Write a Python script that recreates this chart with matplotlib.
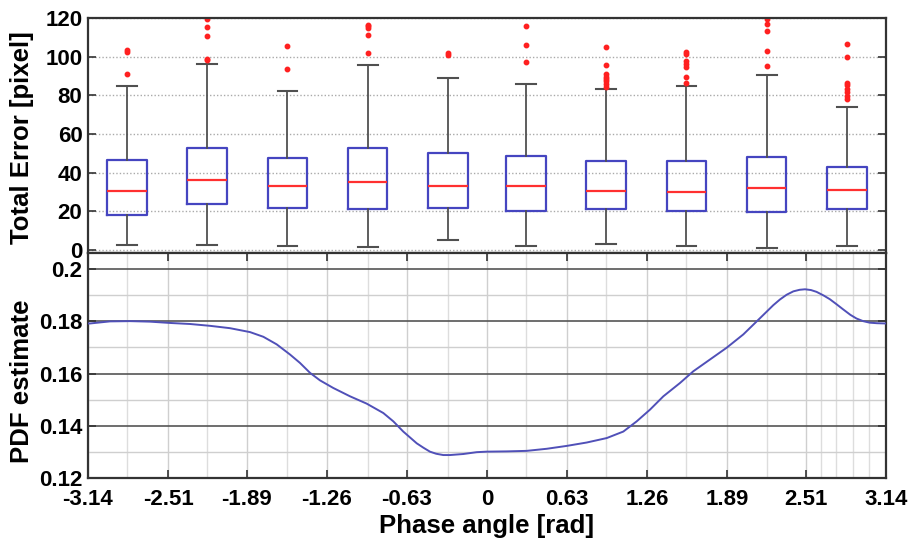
import matplotlib
matplotlib.use("Agg")
import matplotlib.pyplot as plt
from matplotlib.ticker import FixedLocator, NullLocator

plt.rcParams['font.family'] = ['Liberation Sans', 'DejaVu Sans']
plt.rcParams['font.weight'] = 'bold'

# === Box plot data ===
bin_centers = [-2.83, -2.20, -1.57, -0.94, -0.31, 0.31, 0.94, 1.57, 2.20, 2.83]
q1 = [18.2, 23.7, 21.6, 21.1, 21.8, 20.3, 21.3, 20.3, 19.4, 21.3]
medians = [30.3, 36.4, 32.9, 35.0, 33.2, 33.0, 30.3, 30.0, 31.9, 30.8]
q3 = [46.4, 52.8, 47.3, 52.8, 50.0, 48.5, 45.9, 46.2, 48.0, 42.8]
whis_lo = [2.6, 2.6, 2.1, 1.4, 5.2, 2.1, 2.9, 2.1, 0.9, 2.1]
whis_hi = [84.9, 96.1, 82.2, 95.9, 89.2, 86.1, 83.5, 84.7, 90.7, 74.1]
outliers = [
    [91.0, 102.6, 103.4],
    [98.2, 99.0, 110.5, 115.5, 119.5],
    [93.5, 105.5],
    [101.8, 111.2, 115.0, 116.0, 116.5],
    [101.0, 101.8],
    [97.0, 106.0, 115.7],
    [84.5, 85.7, 87.3, 88.3, 89.6, 91.0, 95.9, 105.1],
    [86.6, 89.7, 94.4, 96.1, 97.7, 101.3, 102.2],
    [95.2, 103.0, 113.1, 116.9, 119.6],
    [77.9, 79.6, 81.7, 83.5, 85.5, 86.6, 99.6, 106.5],
]

# === PDF estimate curve ===
phase = [-3.14, -3.124, -2.967, -2.809, -2.652, -2.495, -2.337, -2.180, -2.023,
         -1.865, -1.760, -1.655, -1.550, -1.472, -1.393, -1.314, -1.210, -1.078,
         -0.947, -0.816, -0.737, -0.659, -0.553, -0.500, -0.449, -0.400, -0.344,
         -0.291, -0.186, -0.081, -0.002, 0.155, 0.312, 0.470, 0.627, 0.785,
         0.942, 1.073, 1.178, 1.283, 1.388, 1.519, 1.624, 1.755, 1.886, 2.017,
         2.148, 2.253, 2.306, 2.358, 2.411, 2.460, 2.503, 2.550, 2.594, 2.650,
         2.698, 2.750, 2.803, 2.860, 2.908, 2.960, 3.013, 3.070, 3.14]
pdf = [0.1792, 0.1792, 0.1800, 0.1801, 0.1799, 0.1794, 0.1790, 0.1783, 0.1774,
       0.1759, 0.1741, 0.1712, 0.1673, 0.1641, 0.1603, 0.1574, 0.1545, 0.1513,
       0.1485, 0.1449, 0.1417, 0.1378, 0.1333, 0.1316, 0.1301, 0.1293, 0.1288,
       0.1288, 0.1292, 0.1299, 0.1301, 0.1302, 0.1304, 0.1312, 0.1323, 0.1336,
       0.1353, 0.1378, 0.1417, 0.1462, 0.1513, 0.1564, 0.1609, 0.1654, 0.1699,
       0.1750, 0.1812, 0.1862, 0.1884, 0.1902, 0.1915, 0.1921, 0.1923, 0.1920,
       0.1913, 0.1899, 0.1885, 0.1866, 0.1846, 0.1825, 0.1811, 0.1801, 0.1795,
       0.1793, 0.1792]

x_ticks = [-3.14, -2.51, -1.89, -1.26, -0.63, 0, 0.63, 1.26, 1.89, 2.51, 3.14]
x_ticklabels = ['-3.14', '-2.51', '-1.89', '-1.26', '-0.63', '0', '0.63', '1.26',
                '1.89', '2.51', '3.14']
x_minor = [-2.83, -2.20, -1.57, -0.94, -0.31, 0.31, 0.94, 1.57, 2.20,
           2.63, 2.75, 2.88, 3.01]
top_yticks = [0, 20, 40, 60, 80, 100, 120]
bot_yticks = [0.12, 0.14, 0.16, 0.18, 0.2]
bot_yticklabels = ['0.12', '0.14', '0.16', '0.18', '0.2']
bot_yminor = [0.13, 0.15, 0.17, 0.19]

spine_col = '#333333'
fs = 16
lfs = 18.5

fig = plt.figure(figsize=(9.1, 5.45), dpi=100)
ax1 = fig.add_axes([0.0967, 0.5358, 0.8769, 0.4312])
ax2 = fig.add_axes([0.0967, 0.1229, 0.8769, 0.4129])

# === Top panel: box plots ===
stats = []
for i in range(len(bin_centers)):
    stats.append(dict(med=medians[i], q1=q1[i], q3=q3[i], whislo=whis_lo[i],
                      whishi=whis_hi[i], fliers=outliers[i]))

ax1.bxp(stats, positions=bin_centers, widths=0.314, manage_ticks=False,
        boxprops=dict(color='#4545c0', linewidth=1.6),
        medianprops=dict(color='#ff3030', linewidth=1.6),
        whiskerprops=dict(color='#505050', linewidth=1.3),
        capprops=dict(color='#505050', linewidth=1.5),
        flierprops=dict(marker='o', markersize=3.2, markerfacecolor='#ff2020',
                        markeredgecolor='#ff2020', linestyle='none'))
ax1.set_xlim(-3.14, 3.14)
ax1.set_ylim(-1.6, 120)
ax1.set_yticks(top_yticks)
ax1.xaxis.set_major_locator(NullLocator())
ax1.yaxis.grid(True, linestyle=(0, (1, 1.5)), color='#aaaaaa', linewidth=1.0)
ax1.set_axisbelow(True)
ax1.tick_params(axis='y', direction='in', right=True, length=6, width=1.2,
                color=spine_col, labelsize=fs, pad=4)
ax1.set_ylabel('Total Error [pixel]', fontsize=lfs, fontweight='bold')
ax1.yaxis.set_label_coords(-0.068, 0.49)

# === Bottom panel: PDF estimate ===
ax2.plot(phase, pdf, color='#5050b8', linewidth=1.4, zorder=3)
ax2.set_xlim(-3.14, 3.14)
ax2.set_ylim(0.12, 0.2062)
ax2.set_xticks(x_ticks)
ax2.set_xticklabels(x_ticklabels)
ax2.set_yticks(bot_yticks)
ax2.set_yticklabels(bot_yticklabels)
ax2.xaxis.set_minor_locator(FixedLocator(x_minor))
ax2.yaxis.set_minor_locator(FixedLocator(bot_yminor))
ax2.grid(True, which='major', axis='y', color='#555555', linewidth=1.2)
ax2.grid(True, which='minor', axis='y', color='#cfcfcf', linewidth=1.0)
ax2.grid(True, which='major', axis='x', color='#cfcfcf', linewidth=1.0)
ax2.grid(True, which='minor', axis='x', color='#dddddd', linewidth=1.0)
ax2.set_axisbelow(True)
ax2.tick_params(axis='both', which='major', direction='in', top=True, right=True,
                length=6, width=1.2, color=spine_col, labelsize=fs)
ax2.tick_params(axis='x', which='major', pad=8)
ax2.tick_params(axis='y', which='major', pad=4)
ax2.tick_params(axis='both', which='minor', length=0)
ax2.set_ylabel('PDF estimate', fontsize=lfs, fontweight='bold')
ax2.yaxis.set_label_coords(-0.068, 0.43)
ax2.set_xlabel('Phase angle [rad]', fontsize=lfs, fontweight='bold', labelpad=3)

for ax in (ax1, ax2):
    for sp in ax.spines.values():
        sp.set_color(spine_col)
        sp.set_linewidth(1.6)
    for lbl in ax.get_xticklabels() + ax.get_yticklabels():
        lbl.set_fontweight('bold')

fig.savefig('out.png', dpi=100)
